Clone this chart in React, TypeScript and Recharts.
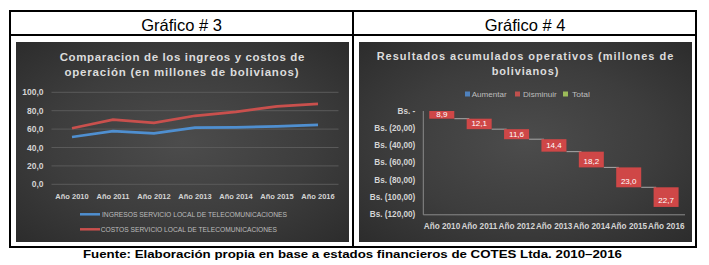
import React from 'react';
import { LineChart, Line, XAxis, YAxis, CartesianGrid, BarChart, Bar, LabelList } from 'recharts';

// ---------- data ----------
const years = ['Año 2010', 'Año 2011', 'Año 2012', 'Año 2013', 'Año 2014', 'Año 2015', 'Año 2016'];
const ingresos = [51.4, 57.9, 55.4, 61.5, 61.9, 63.0, 64.7];
const costos = [60.9, 70.2, 66.9, 74.5, 78.8, 84.8, 87.3];
const disminuciones = [8.9, 12.1, 11.6, 14.4, 18.2, 23.0, 22.7];
const leftTicks = [0, 20, 40, 60, 80, 100];
const rightTicks = [0, -20, -40, -60, -80, -100, -120];

const lineData = years.map((year, i) => ({ year, ingresos: ingresos[i], costos: costos[i] }));
const waterfallData = years.map((year, i) => {
  const prev = disminuciones.slice(0, i).reduce((a, b) => a + b, 0);
  return { year, base: -prev, delta: -disminuciones[i], label: disminuciones[i] };
});

// ---------- styles ----------
const BLUE = '#4f8fd0';
const RED = '#c9504d';
const BAR_RED = '#cf4747';
const LEG_BLUE = '#4f81bd';
const LEG_RED = '#c0504d';
const LEG_GREEN = '#9bbb59';
const TICK = '#d4d4d4';
const DARK_BG = 'radial-gradient(ellipse at 50% 50%, #4c4c4c 0%, #3d3d3d 55%, #2c2c2c 100%)';
const FONT = '"Liberation Sans", Arial, sans-serif';

const fmtLeft = (v: number) => v.toFixed(1).replace('.', ',');
const fmtRight = (v: number) => (v === 0 ? 'Bs. -' : `Bs. (${Math.abs(v).toFixed(2).replace('.', ',')})`);

const makeYTick = (fmt: (v: number) => string, size: number) => (props: any) => {
  const { x, y, payload } = props;
  return (
    <text x={x} y={y} textAnchor="end" dominantBaseline="central" fill={TICK} fontSize={size} fontWeight={700} fontFamily={FONT}>
      {fmt(payload.value)}
    </text>
  );
};
const makeXTick = (size: number) => (props: any) => {
  const { x, y, payload } = props;
  return (
    <text x={x} y={y} dy="0.71em" textAnchor="middle" fill={TICK} fontSize={size} fontWeight={700} fontFamily={FONT}>
      {payload.value}
    </text>
  );
};

const WaterfallShape = (props: any) => {
  const { x, y, width, height, payload } = props;
  const top = Math.min(y, y + height);
  const h = Math.abs(height);
  const isLast = payload && payload.year === years[years.length - 1];
  return (
    <g>
      {!isLast && (
        <line x1={x + width} x2={x + width * 1.6} y1={top + h} y2={top + h} stroke="#a8a8a8" strokeWidth={1} />
      )}
      <rect x={x} y={top} width={width} height={h} fill={BAR_RED} />
    </g>
  );
};

const WaterfallLabel = (props: any) => {
  const { x, y, width, height, value } = props;
  const top = Math.min(y, y + height);
  const h = Math.abs(height);
  const cy = h > 12 ? top + h - 6 : top + h / 2;
  return (
    <text x={x + width / 2} y={cy} textAnchor="middle" dominantBaseline="central" fill="#ffffff" fontSize={8} fontFamily={FONT}>
      {Number(value).toFixed(1).replace('.', ',')}
    </text>
  );
};

export default function App() {
  return (
    <div style={{ position: 'absolute', left: 0, top: 0, width: 709, height: 265, background: '#fff', overflow: 'hidden' }}>
      {/* table frame */}
      <div style={{ position: 'absolute', left: 9, top: 10, width: 688, height: 238, border: '2px solid #000', boxSizing: 'border-box' }} />
      <div style={{ position: 'absolute', left: 9, top: 34, width: 688, height: 2, background: '#000' }} />
      <div style={{ position: 'absolute', left: 352, top: 10, width: 2, height: 238, background: '#000' }} />

      {/* left chart */}
      <div style={{ position: 'absolute', left: 16, top: 42, width: 333, height: 200, background: DARK_BG }}>
        <LineChart width={333} height={200} data={lineData} margin={{ top: 50.3, right: 10.5, bottom: 37.7, left: 0 }}>
          <CartesianGrid vertical={false} stroke="#5a5a5a" strokeWidth={1} />
          <XAxis dataKey="year" interval={0} axisLine={false} tickLine={false} height={20} tickMargin={3}
            padding={{ left: 20.5, right: 20.5 }} tick={makeXTick(7.5)} />
          <YAxis domain={[0, 100]} ticks={leftTicks} interval={0} width={35.5} axisLine={false} tickLine={false}
            tick={makeYTick(fmtLeft, 8.5)} />
          <Line type="linear" dataKey="ingresos" stroke={BLUE} strokeWidth={2.75} dot={false} isAnimationActive={false} />
          <Line type="linear" dataKey="costos" stroke={RED} strokeWidth={2.75} dot={false} isAnimationActive={false} />
        </LineChart>
      </div>

      {/* right chart */}
      <div style={{ position: 'absolute', left: 359, top: 42, width: 333, height: 200, background: DARK_BG }}>
        <BarChart width={333} height={200} data={waterfallData} barCategoryGap="16%"
          margin={{ top: 69, right: 7, bottom: 7.2, left: 0 }}>
          <XAxis dataKey="year" interval={0} axisLine={{ stroke: '#8a8a8a' }} tickLine={false} height={20}
            tick={makeXTick(8.2)} />
          <YAxis domain={[-120, 0]} ticks={rightTicks} interval={0} width={64.3} axisLine={{ stroke: '#8a8a8a' }} tickLine={false}
            tick={makeYTick(fmtRight, 8.2)} />
          <Bar dataKey="base" stackId="w" fill="transparent" isAnimationActive={false} />
          <Bar dataKey="delta" stackId="w" shape={WaterfallShape} isAnimationActive={false}>
            <LabelList dataKey="label" content={WaterfallLabel} />
          </Bar>
        </BarChart>
      </div>

      {/* text overlay */}
      <svg width={709} height={265} style={{ position: 'absolute', left: 0, top: 0, pointerEvents: 'none' }}>
        <g fontFamily={FONT}>
          <text x={181.5} y={25} textAnchor="middle" dominantBaseline="central" fontSize={16.5} fill="#000">Gráfico # 3</text>
          <text x={525} y={25} textAnchor="middle" dominantBaseline="central" fontSize={16.5} fill="#000">Gráfico # 4</text>

          <text x={182} y={57} textAnchor="middle" dominantBaseline="central" fontSize={11.5} fontWeight={700} fill="#dcdcdc"
            textLength={244.7} lengthAdjust="spacing">Comparacion de los ingreos y costos de</text>
          <text x={181.5} y={72} textAnchor="middle" dominantBaseline="central" fontSize={11.5} fontWeight={700} fill="#dcdcdc"
            textLength={234} lengthAdjust="spacing">operación (en millones de bolivianos)</text>

          <line x1={80} x2={100} y1={214.3} y2={214.3} stroke={BLUE} strokeWidth={2.5} />
          <text x={102} y={214.3} dominantBaseline="central" fontSize={7} fill="#bdbdbd" textLength={185} lengthAdjust="spacingAndGlyphs">INGRESOS SERVICIO LOCAL DE TELECOMUNICACIONES</text>
          <line x1={80} x2={100} y1={229.3} y2={229.3} stroke={RED} strokeWidth={2.5} />
          <text x={100.7} y={229.3} dominantBaseline="central" fontSize={7} fill="#bdbdbd" textLength={176.3} lengthAdjust="spacingAndGlyphs">COSTOS SERVICIO LOCAL DE TELECOMUNICACIONES</text>

          <text x={525} y={56} textAnchor="middle" dominantBaseline="central" fontSize={11} fontWeight={700} fill="#dcdcdc"
            textLength={296.7} lengthAdjust="spacing">Resultados acumulados operativos (millones de</text>
          <text x={525} y={71} textAnchor="middle" dominantBaseline="central" fontSize={11} fontWeight={700} fill="#dcdcdc"
            textLength={66.7} lengthAdjust="spacing">bolivianos)</text>

          <rect x={465} y={91.5} width={5} height={5} fill={LEG_BLUE} />
          <text x={471.7} y={94} dominantBaseline="central" fontSize={7} fill="#bdbdbd" textLength={35} lengthAdjust="spacingAndGlyphs">Aumentar</text>
          <rect x={515} y={91.5} width={5} height={5} fill={LEG_RED} />
          <text x={523} y={94} dominantBaseline="central" fontSize={7} fill="#bdbdbd" textLength={33.7} lengthAdjust="spacingAndGlyphs">Disminuir</text>
          <rect x={563} y={91.5} width={5} height={5} fill={LEG_GREEN} />
          <text x={572} y={94} dominantBaseline="central" fontSize={7} fill="#bdbdbd" textLength={18} lengthAdjust="spacingAndGlyphs">Total</text>

          <text x={352.5} y={254.3} textAnchor="middle" dominantBaseline="central" fontSize={11.5} fontWeight={700} fill="#000"
            textLength={539} lengthAdjust="spacingAndGlyphs">Fuente: Elaboración propia en base a estados financieros de COTES Ltda. 2010–2016</text>
        </g>
      </svg>
    </div>
  );
}
